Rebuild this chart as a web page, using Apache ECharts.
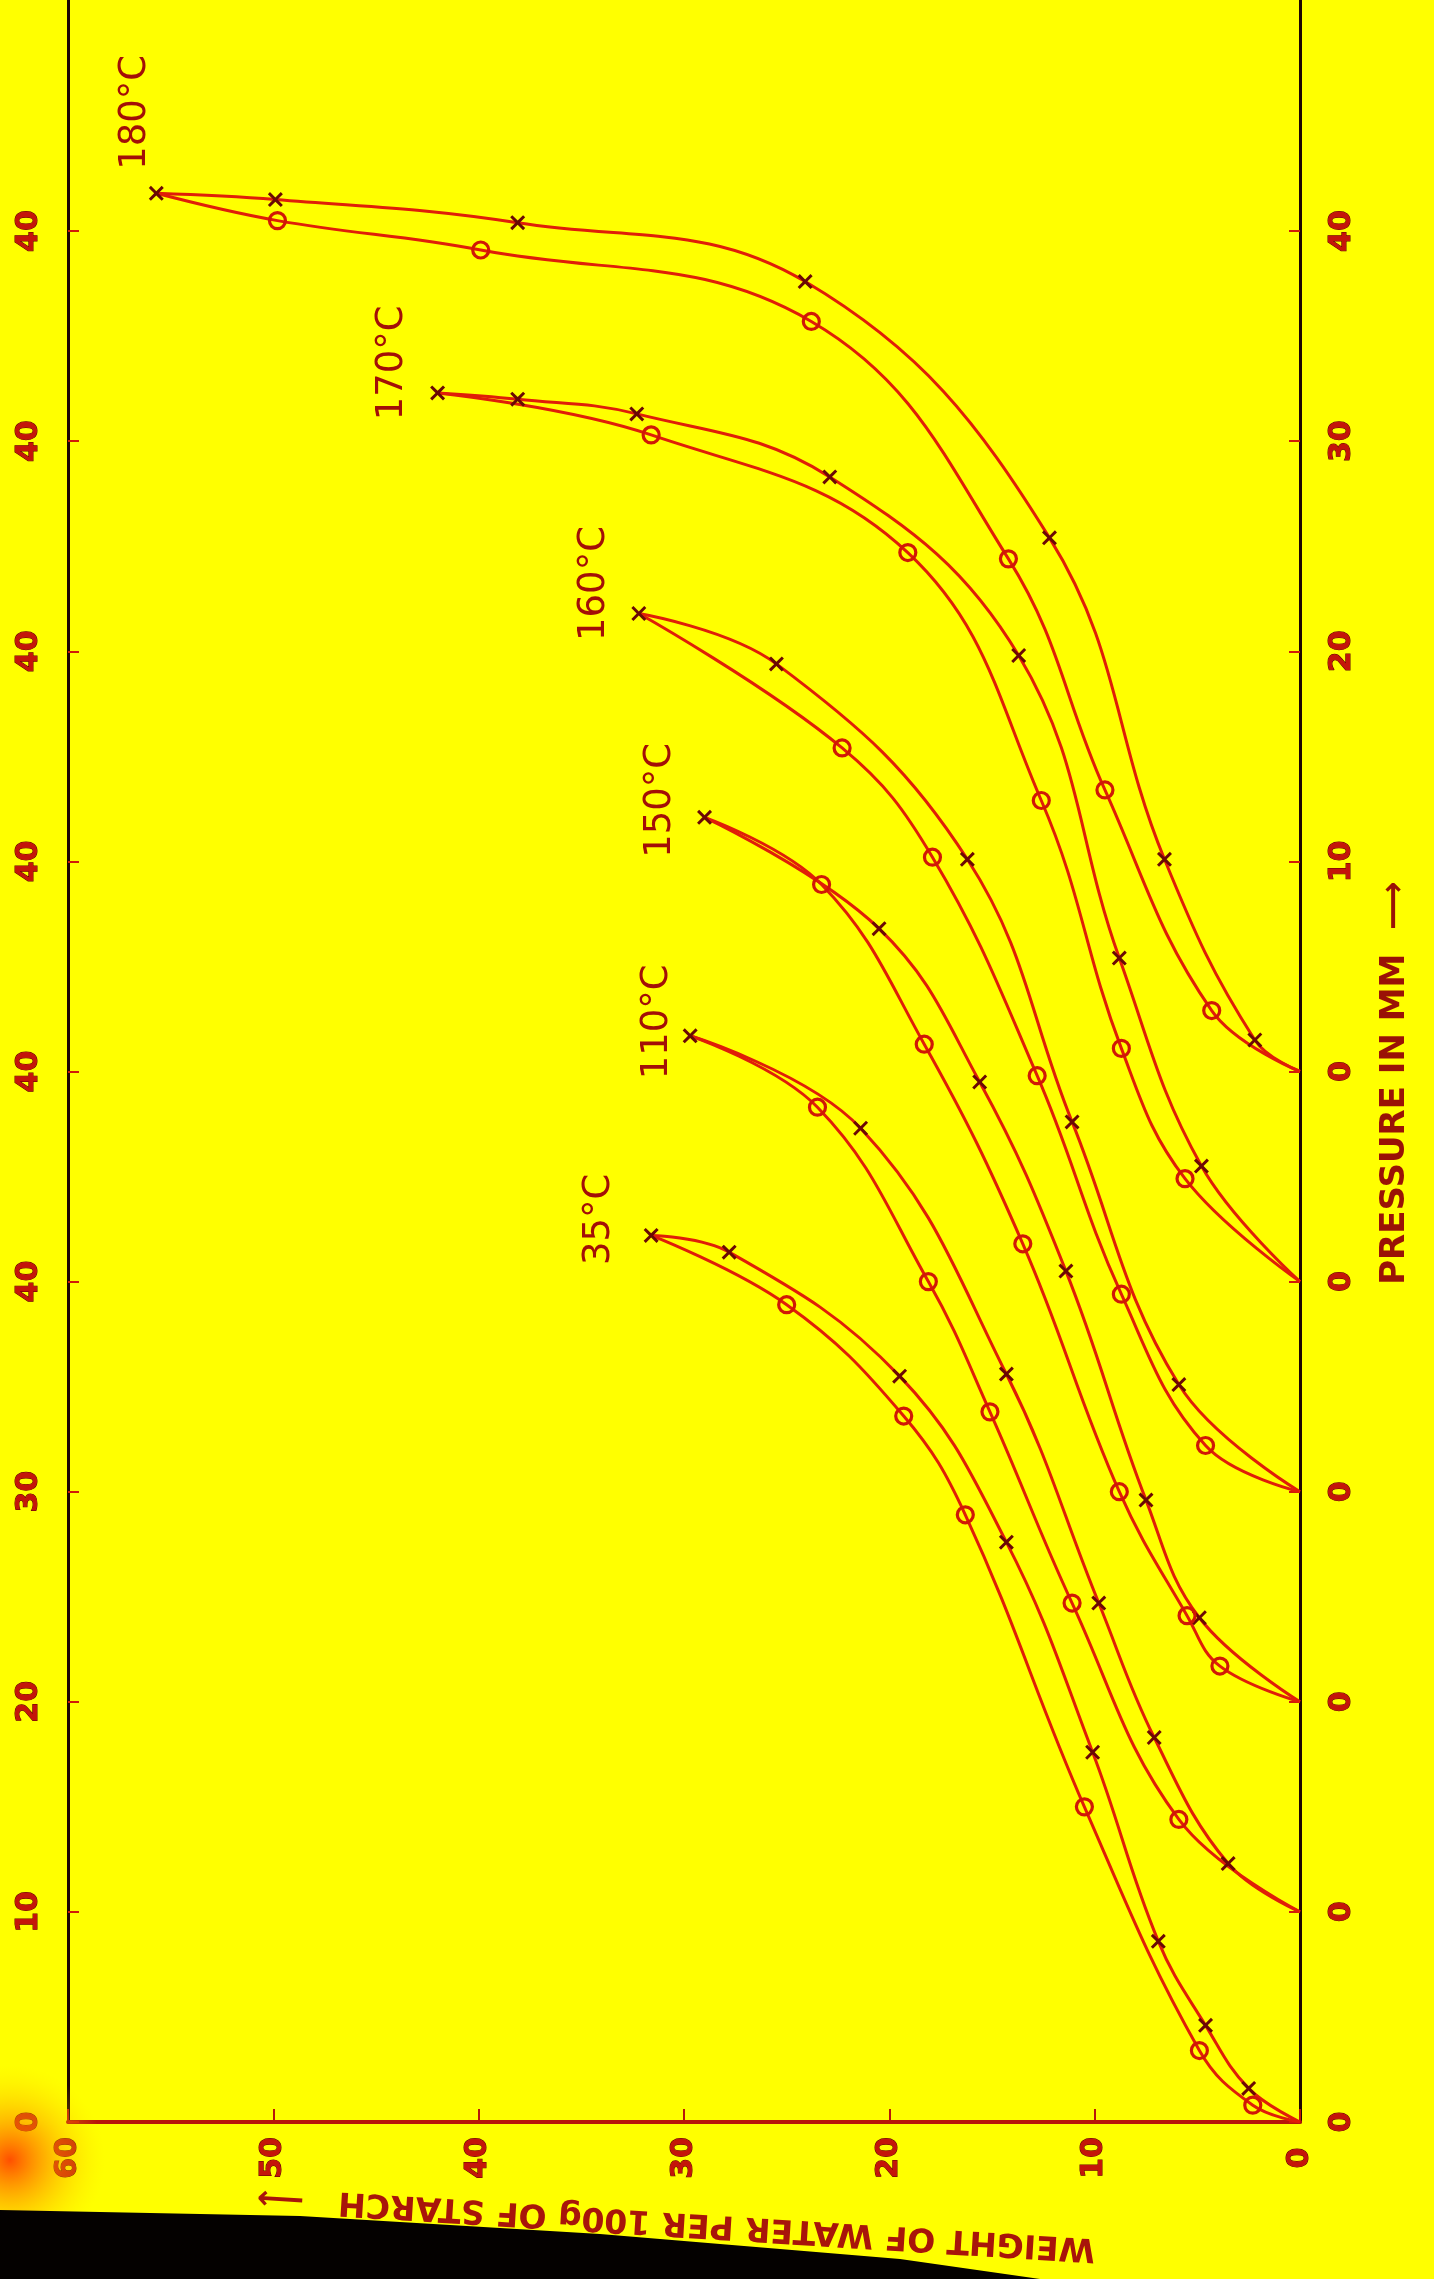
<!DOCTYPE html>
<html>
<head>
<meta charset="utf-8">
<title>Water sorption isotherms of starch</title>
<script src="https://cdn.jsdelivr.net/npm/echarts@6/dist/echarts.min.js"></script>
<style>
  html, body { margin: 0; padding: 0; background: #ffff00; }
  #chart { width: 1434px; height: 2279px; }
</style>
</head>
<body>
<div id="chart"></div>
<script>
// Isotherms: weight of water per 100 g starch against vapour pressure (mm).
// Every isotherm has its own pressure scale, each shifted 10 mm further along the axis.
const temperatures = ['35°C', '110°C', '150°C', '160°C', '170°C', '180°C'];

// [water g / 100 g starch, pressure mm]  — points marked with a cross
const cross35  = [[0,0],[2.5,1.6],[4.6,4.6],[6.9,8.6],[10.1,17.6],[14.3,27.6],[19.5,35.5],[27.8,41.4],[31.6,42.2]];
const cross110 = [[0,0],[3.5,2.3],[7.1,8.3],[9.8,14.7],[14.3,25.6],[21.4,37.3],[29.7,41.7]];
const cross150 = [[0,0],[4.9,4.0],[7.5,9.6],[11.4,20.5],[15.6,29.5],[20.5,36.8],[29.0,42.1]];
const cross160 = [[0,0],[5.9,5.1],[11.1,17.6],[16.2,30.1],[25.5,39.4],[32.2,41.8]];
const cross170 = [[0,0],[4.8,5.5],[8.8,15.4],[13.7,29.8],[22.9,38.3],[32.3,41.3],[38.1,42.0],[42.0,42.3]];
const cross180 = [[0,0],[2.2,1.5],[6.6,10.1],[12.2,25.4],[24.1,37.6],[38.1,40.4],[49.9,41.5],[55.7,41.8]];

// points marked with a circle
const circle35  = [[0,0],[2.3,0.8],[4.9,3.4],[10.5,15.0],[16.3,28.9],[19.3,33.6],[25.0,38.9],[31.6,42.2]];
const circle110 = [[0,0],[5.9,4.4],[11.1,14.7],[15.1,23.8],[18.1,30.0],[23.5,38.3],[29.7,41.7]];
const circle150 = [[0,0],[3.9,1.7],[5.5,4.1],[8.8,10.0],[13.5,21.8],[18.3,31.3],[23.3,38.9],[29.0,42.1]];
const circle160 = [[0,0],[4.6,2.2],[8.7,9.4],[12.8,19.8],[17.9,30.2],[22.3,35.4],[32.2,41.8]];
const circle170 = [[0,0],[5.6,4.9],[8.7,11.1],[12.6,22.9],[19.1,34.7],[31.6,40.3],[42.0,42.3]];
const circle180 = [[0,0],[4.3,2.9],[9.5,13.4],[14.2,24.4],[23.8,35.7],[39.9,39.1],[49.8,40.5],[55.7,41.8]];

// tick labels
const waterTicks = [0, 10, 20, 30, 40, 50, 60];
const pressureLabelsTop    = ['0', '10', '20', '30', '40', '40', '40', '40', '40', '40'];
const pressureLabelsBottom = ['0', '0', '0', '0', '0', '0', '10', '20', '30', '40'];

const SHIFT_MM = 10;        // each isotherm starts 10 mm above the previous one
const crossSets  = [cross35, cross110, cross150, cross160, cross170, cross180];
const circleSets = [circle35, circle110, circle150, circle160, circle170, circle180];

const RED = '#e01e08';
const DARK = '#6a0904';
const CROSS = 'path://M1.4,0 L5,3.6 L8.6,0 L10,1.4 L6.4,5 L10,8.6 L8.6,10 L5,6.4 L1.4,10 L0,8.6 L3.6,5 L0,1.4 Z';
const tickValues = pressureLabelsTop.map((_, i) => i * 10);

const series = [];
temperatures.forEach((name, i) => {
  const shift = SHIFT_MM * i;
  const cross = crossSets[i];
  const circle = circleSets[i];
  series.push({
    type: 'line', name: name, smooth: 0.4, z: 3,
    symbol: CROSS, symbolSize: 15,
    lineStyle: { color: RED, width: 3 },
    itemStyle: { color: DARK },
    data: cross.map((pt, k) => ({ value: [pt[0], pt[1] + shift], symbol: k === 0 ? 'none' : CROSS }))
  });
  series.push({
    type: 'line', name: name, smooth: 0.4, z: 3,
    symbol: 'circle', symbolSize: 16,
    lineStyle: { color: RED, width: 3 },
    itemStyle: { color: 'rgba(0,0,0,0)', borderColor: '#d01806', borderWidth: 3.2 },
    data: circle.map((pt, k) => ({
      value: [pt[0], pt[1] + shift],
      symbol: (k === 0 || k === circle.length - 1) ? 'none' : 'circle'
    }))
  });
});

const labelText = {
  fontFamily: '"DejaVu Sans", sans-serif', fontWeight: 'bold', fontSize: 30,
  color: '#c4160a', textBorderColor: '#5c0000', textBorderWidth: 1,
  rotate: 90, align: 'center', verticalAlign: 'middle'
};

const pressureAxis = (position, labels, margin) => ({
  type: 'value', position: position, min: 0, max: 101, interval: 10,
  axisLine: { show: true, onZero: false, lineStyle: { color: '#1e0502', width: 3 } },
  axisTick: { show: true, inside: true, length: 11, customValues: tickValues,
              lineStyle: { color: '#d01a08', width: 2 } },
  axisLabel: Object.assign({}, labelText, {
    margin: margin, customValues: tickValues,
    formatter: v => { const k = Math.round(v / 10); return labels[k] !== undefined ? labels[k] : ''; }
  }),
  splitLine: { show: false }
});

const option = {
  animation: false,
  backgroundColor: '#ffff00',
  grid: { left: 68, right: 134, top: 0, bottom: 157, containLabel: false, outerBoundsMode: 'none' },
  xAxis: {
    type: 'value', inverse: true, min: 0, max: 60, interval: 10,
    axisLine: { show: true, onZero: false, lineStyle: { color: '#b8160a', width: 4 } },
    axisTick: { show: true, inside: true, length: 13, lineStyle: { color: '#b8160a', width: 2 } },
    axisLabel: Object.assign({}, labelText, {
      margin: 36, formatter: v => (waterTicks.indexOf(v) >= 0 ? String(v) : '')
    }),
    splitLine: { show: false }
  },
  yAxis: [
    pressureAxis('left', pressureLabelsTop, 39),
    pressureAxis('right', pressureLabelsBottom, 42)
  ],
  series: series
};

const chart = echarts.init(document.getElementById('chart'), null, { renderer: 'canvas' });
chart.setOption(option);

// Temperature captions sit just beyond the top end of each isotherm
const CAPTION_OFFSET = [[-52, -16], [-33, -14], [-44, -17], [-44, -30], [-45, -30], [-21, -81]];
const captions = temperatures.map((name, i) => {
  const end = crossSets[i][crossSets[i].length - 1];
  const p = chart.convertToPixel({ xAxisIndex: 0, yAxisIndex: 0 }, [end[0], end[1] + SHIFT_MM * i]);
  return {
    type: 'text', x: p[0] + CAPTION_OFFSET[i][0], y: p[1] + CAPTION_OFFSET[i][1],
    rotation: Math.PI / 2, z: 10,
    style: { text: name, fontFamily: '"DejaVu Sans", sans-serif', fontSize: 37,
             fill: '#a30f07', align: 'center', verticalAlign: 'middle' }
  };
});

const backdrop = [
  { type: 'circle', z: 1, shape: { cx: 10, cy: 2160, r: 95 },
    style: { fill: { type: 'radial', x: 0.5, y: 0.5, r: 0.5, colorStops: [
      { offset: 0, color: 'rgba(255,70,0,0.95)' },
      { offset: 1, color: 'rgba(255,220,0,0)' } ] } } },
  { type: 'polygon', z: 2,
    shape: { points: [[0, 2210], [300, 2216], [600, 2234], [900, 2259], [1040, 2279], [0, 2279]] },
    style: { fill: '#040100' } }
];

const titles = [
  { type: 'text', x: 1395, y: 1083, rotation: Math.PI / 2, z: 10,
    style: { text: 'PRESSURE IN MM  \u27F6', fontFamily: '"DejaVu Sans", sans-serif',
             fontWeight: 'bold', fontSize: 34, fill: '#9a1206',
             align: 'center', verticalAlign: 'middle' } },
  { type: 'text', x: 676, y: 2222, rotation: Math.PI - 0.062, z: 10,
    style: { text: 'WEIGHT OF WATER PER 100g OF STARCH   \u27F6', fontFamily: '"DejaVu Sans", sans-serif',
             fontWeight: 'bold', fontSize: 33, fill: '#a8150a',
             align: 'center', verticalAlign: 'middle' } }
];

chart.setOption({ graphic: backdrop.concat(titles, captions) });
</script>
</body>
</html>
